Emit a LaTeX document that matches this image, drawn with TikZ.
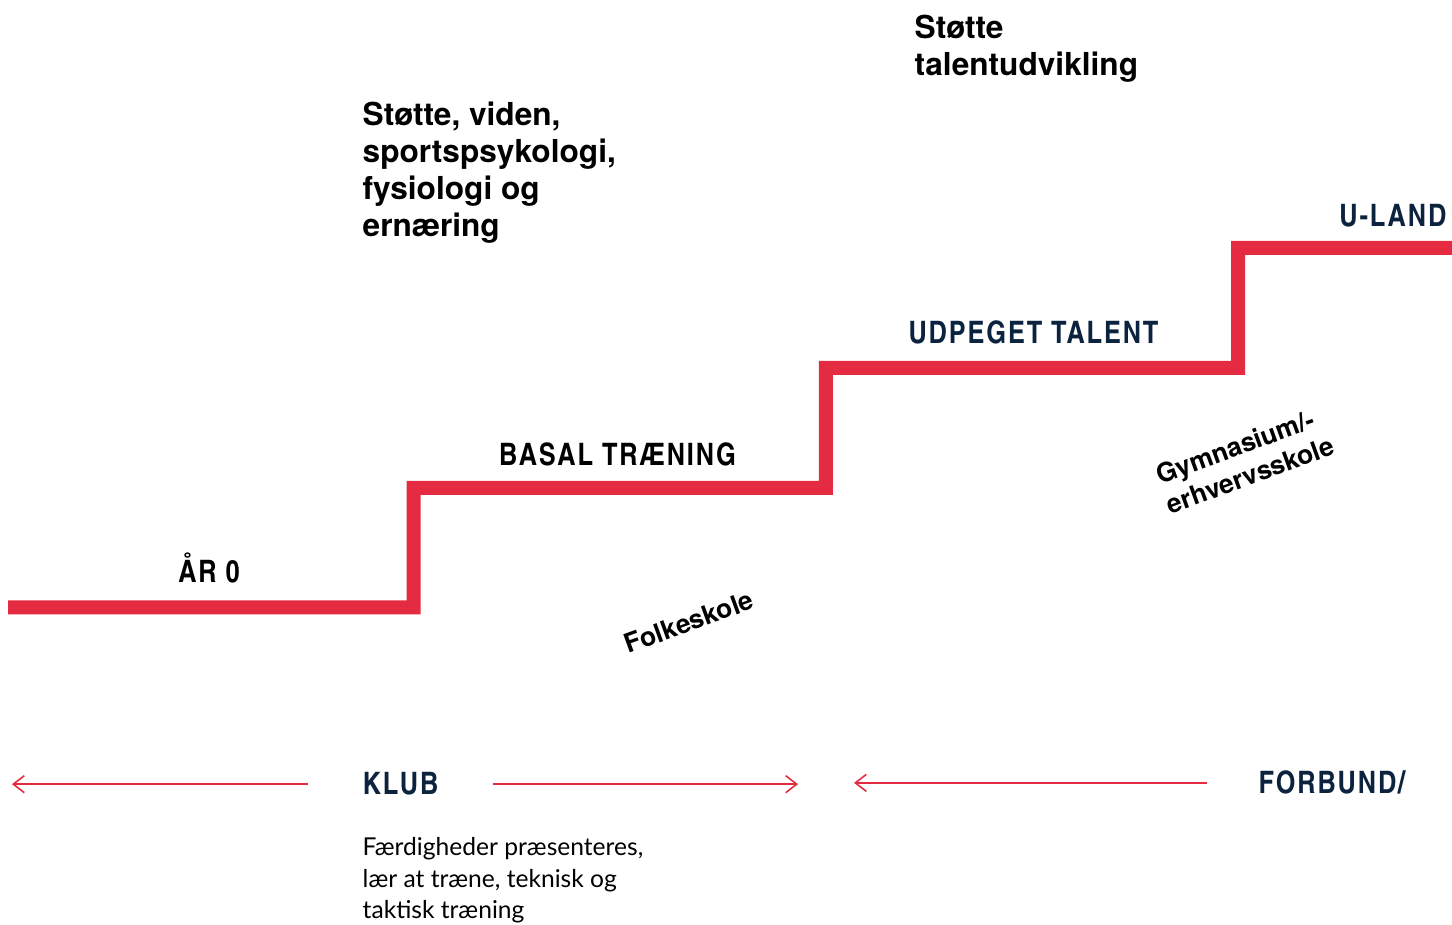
\documentclass[tikz,border=0pt]{standalone}
\usepackage{fontspec}
\setmainfont{TeX Gyre Heros}
\newfontfamily\trinfont[LetterSpace=6]{texgyreheroscn-bold.otf}
\newfontfamily\brodfont{Lato}
\usetikzlibrary{arrows.meta}
\definecolor{trinrod}{RGB}{229,43,65}
\definecolor{marine}{RGB}{12,35,64}

\begin{document}
\begin{tikzpicture}[
	trappe/.style={
		draw=trinrod,
		line width=0.14cm
	},
	trin/.style={
		inner sep=0pt,
		anchor=base,
		font=\trinfont\fontsize{8.8}{10}\selectfont
	},
	overskrift/.style={
		inner sep=0pt,
		anchor=base west,
		align=left,
		font=\bfseries\fontsize{9}{10.6}\selectfont
	},
	skole/.style={
		inner sep=0pt,
		align=left,
		rotate=20,
		font=\bfseries\fontsize{7.5}{9}\selectfont
	},
	aktor/.style={
		inner sep=0pt,
		anchor=base west,
		text=marine,
		font=\trinfont\fontsize{8.8}{10}\selectfont
	},
	pil/.style={
		draw=trinrod,
		line width=0.45pt,
		-{Straight Barb[length=0.11cm,width=0.17cm]}
	},
	tekst/.style={
		inner sep=0pt,
		anchor=base west,
		align=left,
		font=\brodfont\fontsize{7}{9.1}\selectfont
	}
]

\useasboundingbox (0,0) rectangle (14.52,9.25);

\coordinate (start) at (0.08,3.175);
\foreach \x in {0, ..., 2}
	\coordinate (trin\x) at ({4.135+4.123*\x}, {4.37+1.2*\x});
\coordinate (slut) at (14.52,6.77);

\draw[trappe] (start) -| (trin0) -| (trin1) -| (trin2) -- (slut);

\node[trin] (aar) at (2.09,3.42) {ÅR 0};
\node[trin] (basal) at (6.175,4.59) {BASAL TRÆNING};
\node[trin, text=marine] (udpeget) at (10.335,5.81) {UDPEGET TALENT};
\node[trin, text=marine, anchor=base east] (uland) at (14.47,6.98) {U-LAND};

\node[overskrift] (viden) at (3.62,6.88) {Støtte, viden,\\sportspsykologi,\\fysiologi og\\ernæring};
\node[overskrift] (talent) at (9.14,8.49) {Støtte\\talentudvikling};

\node[skole] (folkeskole) at (6.89,3.03) {Folkeskole};
\node[skole] (gymnasium) at (12.45,4.65) {Gymnasium/-\\erhvervsskole};

\node[aktor] (klub) at (3.62,1.30) {KLUB};
\node[aktor] (forbund) at (12.58,1.31) {FORBUND/};

\coordinate (venstre) at (0.12,0);
\coordinate (midt) at (7.98,0);
\coordinate (hojre) at (8.54,0);

\draw[pil] ([xshift=-0.54cm]klub.west) -- (klub.west -| venstre);
\draw[pil] ([xshift=0.54cm]klub.east) -- (klub.east -| midt);
\draw[pil] ([xshift=-0.51cm]forbund.west) -- (forbund.west -| hojre);

\node[tekst] (faerdigheder) at (3.62,0.06) {Færdigheder præsenteres,\\lær at træne, teknisk og\\taktisk træning};

\end{tikzpicture}
\end{document}
